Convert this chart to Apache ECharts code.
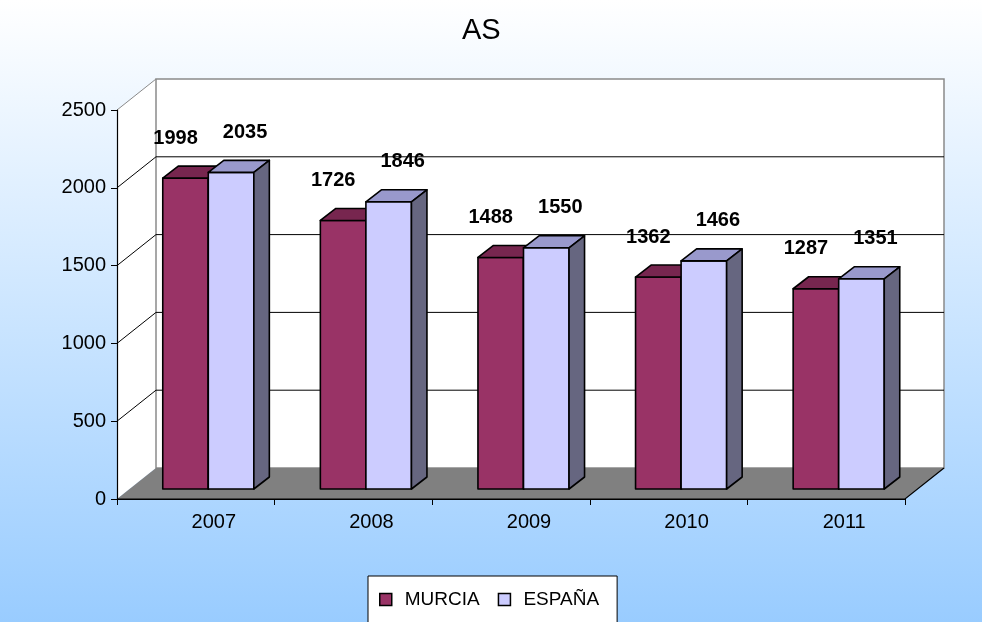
<!DOCTYPE html>
<html>
<head>
<meta charset="utf-8">
<script src="https://cdn.jsdelivr.net/npm/echarts@6/dist/echarts.min.js"></script>
<style>
  html, body { margin: 0; padding: 0; }
  #chart { width: 982px; height: 622px; }
</style>
</head>
<body>
<div id="chart"></div>
<script>
// chart data
var years = ["2007", "2008", "2009", "2010", "2011"];
var murcia = [1998, 1726, 1488, 1362, 1287];
var espana = [2035, 1846, 1550, 1466, 1351];
var yTicks = [0, 500, 1000, 1500, 2000, 2500];

// fake 3d: depth of the box and of the bars (pixels)
var DX = 39, DY = -31;
var FX = 12.5, FY = -10; // bar front face
var BX = 28, BY = -22; // bar back face
var FONT = "Liberation Sans, Arial, sans-serif";

var myChart = echarts.init(document.getElementById("chart"));

function wallsItem(params, api) {
  var cs = params.coordSys;
  var L = cs.x, R = cs.x + cs.width, T = cs.y, B = cs.y + cs.height;
  var kids = [];
  // side wall
  kids.push({
    type: "polygon",
    shape: { points: [[L, T], [L + DX, T + DY], [L + DX, B + DY], [L, B]] },
    style: { fill: "#fff", stroke: null },
  });
  // back wall
  kids.push({
    type: "rect",
    shape: { x: L + DX, y: T + DY, width: R - L, height: B - T },
    style: { fill: "#fff", stroke: "#8a8a8a", lineWidth: 1.5 },
  });
  yTicks.forEach(function (v) {
    if (v === 0) return;
    var y = api.coord([0, v])[1];
    var last = v === yTicks[yTicks.length - 1];
    if (!last) {
      kids.push({
        type: "line",
        shape: { x1: L + DX, y1: y + DY, x2: R + DX, y2: y + DY },
        style: { stroke: "#000", lineWidth: 1 },
      });
    }
    kids.push({
      type: "line",
      shape: { x1: L, y1: y, x2: L + DX, y2: y + DY },
      style: { stroke: last ? "#8a8a8a" : "#000", lineWidth: 1 },
    });
  });
  // floor
  kids.push({
    type: "polygon",
    shape: { points: [[L, B], [R, B], [R + DX, B + DY], [L + DX, B + DY]] },
    style: { fill: "#808080", stroke: null },
  });
  kids.push({
    type: "polyline",
    shape: { points: [[L, B], [R, B], [R + DX, B + DY]] },
    style: { stroke: "#000", lineWidth: 1.2, fill: null },
  });
  return { type: "group", children: kids };
}

function barItem(side, front, top, sideCol, labelDx) {
  return function (params, api) {
    var idx = api.value(0);
    var val = api.value(1);
    var base = api.coord([idx, 0]);
    var tp = api.coord([idx, val]);
    var w = api.size([1, 0])[0] * 0.289;
    var x0 = side === 0 ? base[0] - w : base[0];
    var x1 = x0 + w;
    var yt = tp[1], yb = base[1];
    var edge = { stroke: "#000", lineWidth: 1.6, lineJoin: "round" };
    return {
      type: "group",
      children: [
        {
          type: "rect",
          shape: { x: x0 + FX, y: yt + FY, width: w, height: yb - yt },
          style: Object.assign({ fill: front }, edge),
        },
        {
          type: "polygon",
          shape: { points: [[x0 + FX, yt + FY], [x1 + FX, yt + FY], [x1 + BX, yt + BY], [x0 + BX, yt + BY]] },
          style: Object.assign({ fill: top }, edge),
        },
        {
          type: "polygon",
          shape: { points: [[x1 + FX, yt + FY], [x1 + BX, yt + BY], [x1 + BX, yb + BY], [x1 + FX, yb + FY]] },
          style: Object.assign({ fill: sideCol }, edge),
        },
        {
          type: "text",
          style: {
            text: String(val),
            x: x0 + FX + w / 2 + labelDx,
            y: yt + FY - 40,
            align: "center",
            verticalAlign: "middle",
            fill: "#000",
            fontFamily: FONT,
            fontWeight: "bold",
            fontSize: 20,
          },
        },
      ],
    };
  };
}

var option = {
  backgroundColor: {
    type: "linear", x: 0, y: 0, x2: 0, y2: 1,
    colorStops: [
      { offset: 0, color: "#ffffff" },
      { offset: 1, color: "#99ccff" },
    ],
  },
  title: {
    text: "AS",
    left: 457,
    top: 11,
    textStyle: { fontFamily: FONT, fontSize: 29, fontWeight: "normal", color: "#000" },
  },
  legend: {
    left: 368,
    top: 576,
    icon: "rect",
    itemWidth: 12,
    itemHeight: 12,
    itemGap: 18,
    padding: [14, 18, 40, 11],
    backgroundColor: "#fff",
    borderColor: "#000",
    borderWidth: 1,
    textStyle: { fontFamily: FONT, fontSize: 19, color: "#000", padding: [0, 0, 0, 8] },
    data: [
      { name: "MURCIA", itemStyle: { color: "#993366", borderColor: "#000", borderWidth: 1.5 } },
      { name: "ESPAÑA", itemStyle: { color: "#ccccff", borderColor: "#000", borderWidth: 1.5 } },
    ],
  },
  grid: { left: 117, right: 77, top: 110, bottom: 123 },
  xAxis: {
    type: "category",
    data: years,
    z: 5,
    axisLine: { lineStyle: { color: "#000", width: 1.2 } },
    axisTick: { show: true, length: 6, lineStyle: { color: "#000" } },
    axisLabel: {
      fontFamily: FONT,
      fontSize: 20,
      color: "#000",
      margin: 13,
      padding: [0, 0, 0, 36],
    },
    splitLine: { show: false },
  },
  yAxis: {
    type: "value",
    min: 0,
    max: 2500,
    interval: 500,
    z: 5,
    axisLine: { show: true, lineStyle: { color: "#000", width: 1.2 } },
    axisTick: { show: true, length: 6, lineStyle: { color: "#000" } },
    axisLabel: {
      fontFamily: FONT,
      fontSize: 20,
      color: "#000",
      margin: 11,
      formatter: function (v) { return String(v); },
    },
    splitLine: { show: false },
  },
  series: [
    {
      name: "walls",
      type: "custom",
      renderItem: wallsItem,
      data: [[0, 0]],
      silent: true,
      z: 1,
    },
    {
      name: "MURCIA",
      type: "custom",
      itemStyle: { color: "#993366" },
      renderItem: barItem(0, "#993366", "#77264f", "#5e2040", -10),
      encode: { x: 0, y: 1 },
      data: murcia.map(function (v, i) { return [i, v]; }),
      z: 2,
    },
    {
      name: "ESPAÑA",
      type: "custom",
      itemStyle: { color: "#ccccff" },
      renderItem: barItem(1, "#ccccff", "#9999cc", "#666680", 14),
      encode: { x: 0, y: 1 },
      data: espana.map(function (v, i) { return [i, v]; }),
      z: 3,
    },
  ],
};

myChart.setOption(option);
</script>
</body>
</html>
